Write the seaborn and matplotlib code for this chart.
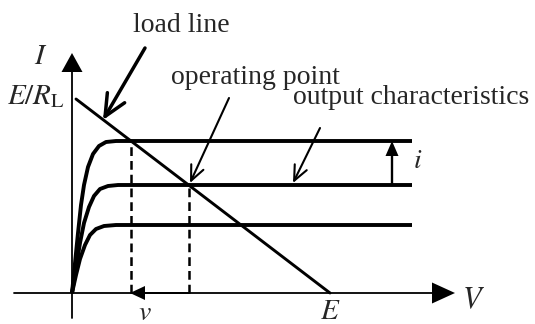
import matplotlib
matplotlib.use("Agg")
import matplotlib.pyplot as plt
import seaborn as sns
import pandas as pd

# Output characteristics: (V, I) samples for three base-current levels
curve_top_v = [0, 3, 6, 9, 12, 16, 21, 27, 34, 44, 340]
curve_top_i = [0, 30, 60, 88, 108, 126, 139, 147, 151, 152, 152]
curve_mid_v = [0, 4, 8, 12, 17, 22, 28, 36, 46, 340]
curve_mid_i = [0, 25, 50, 70, 86, 97, 104, 107, 108, 108]
curve_low_v = [0, 4, 8, 13, 18, 24, 32, 44, 340]
curve_low_i = [0, 18, 34, 48, 58, 64, 67, 68, 68]

# Load line between (near) E/R_L on the current axis and E on the voltage axis
load_v = [4, 258]
load_i = [194, 0]
E_value = 258

# Operating point and the swing point on the upper characteristic
op_v, op_i = 117, 108
swing_v, swing_i = 59, 152

sns.set_theme(style="white")
plt.rcParams["font.family"] = ["Liberation Serif", "DejaVu Serif"]
plt.rcParams["mathtext.fontset"] = "stix"

fig = plt.figure(figsize=(5.35, 3.24), dpi=100)
ax = fig.add_axes([0, 0, 1, 1])
ax.set_xlim(-72, 463)
ax.set_ylim(-31, 293)
ax.set_axis_off()

frames = []
for name, vs, is_ in [("top", curve_top_v, curve_top_i),
                      ("mid", curve_mid_v, curve_mid_i),
                      ("low", curve_low_v, curve_low_i)]:
    frames.append(pd.DataFrame({"V": vs, "I": is_, "curve": name}))
curves = pd.concat(frames, ignore_index=True)
sns.lineplot(data=curves, x="V", y="I", units="curve", estimator=None,
             sort=False, color="black", lw=2.8, ax=ax,
             solid_capstyle="butt", solid_joinstyle="round")

# Load line
sns.lineplot(x=load_v, y=load_i, color="black", lw=2.1, sort=False, ax=ax)

# Dashed projections onto the voltage axis
for xv, yv in [(swing_v, swing_i), (op_v, op_i)]:
    ax.plot([xv, xv], [0, yv], color="black", lw=1.8, dashes=(3.5, 2))

# Axes with filled arrowheads
ax.plot([0, 0], [-25, 222], color="black", lw=1.3)
ax.plot([-58, 362], [0, 0], color="black", lw=1.3)
ax.fill([-10.5, 10.5, 0], [221, 221, 240], color="black", lw=0)
ax.fill([360, 360, 383], [-10.5, 10.5, 0], color="black", lw=0)

# Voltage swing arrow (pointing left) and current swing arrow (pointing up)
ax.plot([swing_v + 12, op_v], [0, 0], color="black", lw=1.4)
ax.fill([swing_v + 14, swing_v + 14, swing_v - 1], [-7, 7, 0],
        color="black", lw=0)
ax.plot([320, 320], [op_i, swing_i - 12], color="black", lw=1.7)
ax.fill([313.5, 326.5, 320], [swing_i - 15, swing_i - 15, swing_i],
        color="black", lw=0)

# Pointer arrows with open heads
ax.annotate("", xy=(31, 173), xytext=(73, 245),
            arrowprops=dict(arrowstyle="->,head_length=1.3,head_width=0.6",
                            lw=2.5, color="black", shrinkA=0, shrinkB=0))
ax.annotate("", xy=(118, 110), xytext=(157, 195),
            arrowprops=dict(arrowstyle="->,head_length=0.9,head_width=0.4",
                            lw=1.5, color="black", shrinkA=0, shrinkB=0))
ax.annotate("", xy=(221, 110), xytext=(248, 165),
            arrowprops=dict(arrowstyle="->,head_length=0.9,head_width=0.4",
                            lw=1.5, color="black", shrinkA=0, shrinkB=0))

fs = 20
ax.text(109, 268, "load line", fontsize=fs, ha="center", va="center")
ax.text(183, 216, "operating point", fontsize=fs, ha="center", va="center")
ax.text(339, 195, "output characteristics", fontsize=fs, ha="center", va="center")
ax.text(-31, 236, "$I$", fontsize=fs + 1, ha="center", va="center")
ax.text(-36, 196, r"$E/R_{\rm L}$", fontsize=fs + 1, ha="center", va="center")
ax.text(E_value, -19, "$E$", fontsize=fs + 1, ha="center", va="center")
ax.text(401, -8, "$V$", fontsize=fs + 2, ha="center", va="center")
ax.text(73, -20, "$v$", fontsize=fs, ha="center", va="center")
ax.text(346, 132, "$i$", fontsize=fs, ha="center", va="center")

fig.savefig("out.png", dpi=100, facecolor="white")
